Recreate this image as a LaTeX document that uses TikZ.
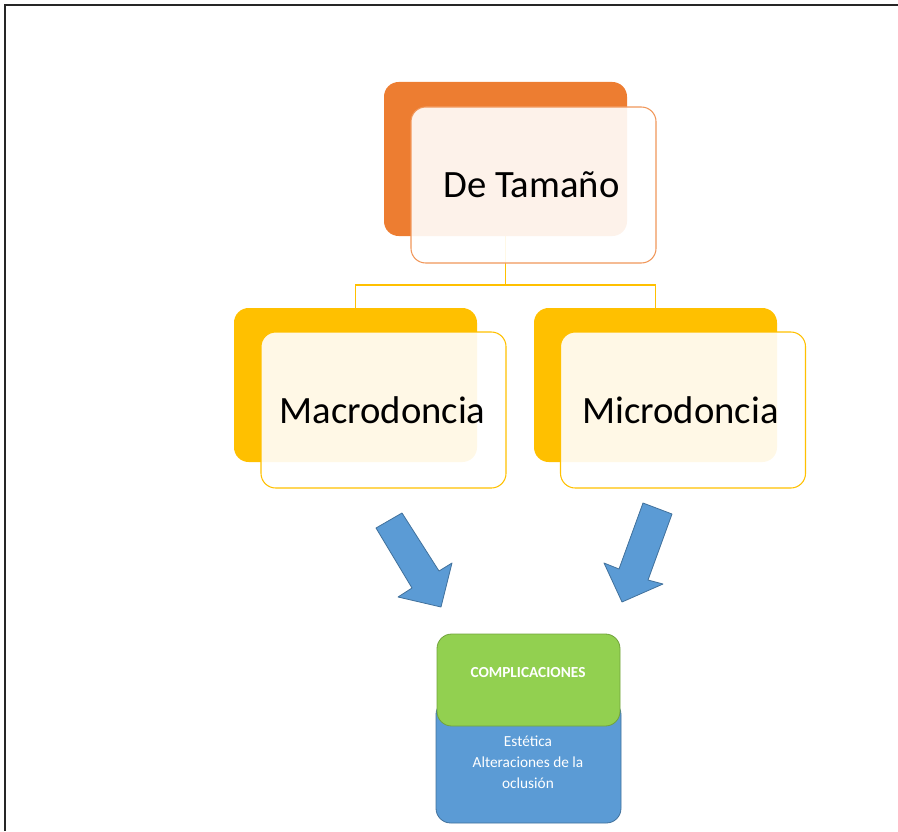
\documentclass[tikz,border=0pt]{standalone}
\usepackage{fontspec}
\setmainfont{Carlito}
\definecolor{orangeA}{HTML}{ED7D31}
\definecolor{goldA}{HTML}{FFC000}
\definecolor{blueA}{HTML}{5B9BD5}
\definecolor{blueEdge}{HTML}{41719C}
\definecolor{greenA}{HTML}{92D050}
\definecolor{greenEdge}{HTML}{71A33B}
\begin{document}
\begin{tikzpicture}[x=0.75pt,y=-0.75pt,
  back/.style={rounded corners=11pt, inner sep=0pt, draw=none, minimum width=182.25pt, minimum height=115.5pt},
  front/.style={rounded corners=11pt, inner sep=0pt, fill=white, fill opacity=0.9, text opacity=1, line width=0.8pt, minimum width=183.75pt, minimum height=117pt},
  big/.style={font=\fontsize{29}{35}\selectfont, text=black},
  conn/.style={draw=goldA, line width=1.2pt},
  bigarrow/.style={fill=blueA, draw=blueEdge, line width=0.6pt, line join=round},
  small/.style={font=\fontsize{11.5}{15.75}\selectfont, text=white, align=center}]
\useasboundingbox (0,0) rectangle (898,831);
\draw[line width=1.6pt, black!85] (5,831) -- (5,5) -- (898,5);

% back boxes
\node[back, fill=orangeA] (tb) at (505.5,159) {};
\node[back, fill=goldA] (lb) at (355.5,385) {};
\node[back, fill=goldA] (rb) at (655.5,385) {};

% connectors
\coordinate (j) at (505.5,285);
\draw[conn] (tb.south) -- (j);
\draw[conn] (j) -| (lb.north);
\draw[conn] (j) -| (rb.north);

% front boxes
\node[front, draw=orangeA!80] (tf) at (533.5,185) {};
\node[front, draw=goldA] (lf) at (383.5,410) {};
\node[front, draw=goldA] (rf) at (683,410) {};

\node[big] (tt) at (531.5,185) {De Tamaño};
\node[big] (lt) at (382.5,410) {Macrodoncia};
\node[big] (rt) at (680.5,410) {Microdoncia};

% block arrows
\draw[bigarrow] (402,513) -- (439,571) -- (452,563) -- (441,607) -- (398,597) -- (412,588) -- (376,528) -- cycle;
\draw[bigarrow] (643,503) -- (672,514) -- (648,580) -- (663,584) -- (622,602) -- (604,563) -- (619,569) -- cycle;

% bottom boxes
\node[rounded corners=11pt, inner sep=0pt, fill=blueA, draw=blueEdge, line width=0.6pt, minimum width=138.75pt, minimum height=92.25pt] (bb) at (528.5,761.5) {};
\node[rounded corners=11pt, inner sep=0pt, fill=greenA, draw=greenEdge, line width=0.6pt, minimum width=137.25pt, minimum height=69pt] (gb) at (528.5,680) {};
\node[small, font=\fontsize{11.5}{15.75}\selectfont\bfseries] (gt) at (528,673) {COMPLICACIONES};
\node[small] (bt) at (528,762) {Estética\\Alteraciones de la\\oclusión};
\end{tikzpicture}
\end{document}
